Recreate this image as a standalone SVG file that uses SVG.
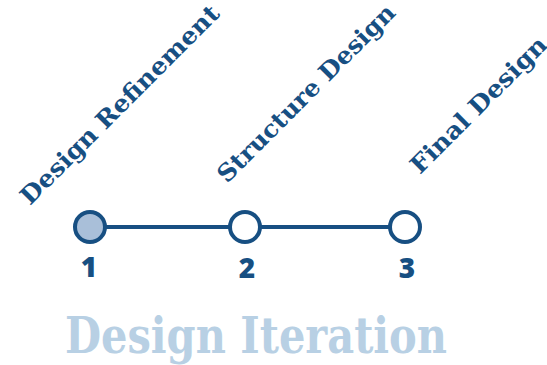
<svg xmlns="http://www.w3.org/2000/svg" width="547" height="365" viewBox="0 0 547 365">
  <style>
    .label { font-family: "DejaVu Serif", "Liberation Serif", serif; font-weight: bold; font-size: 24px; fill: #174f82; }
    .num { font-family: "Open Sans", "Noto Sans", sans-serif; font-weight: 800; font-size: 28px; fill: #174f82; text-anchor: middle; }
    .title { font-family: "DejaVu Serif", "Liberation Serif", serif; font-weight: bold; font-size: 50px; fill: #b8d0e4; }
    .node { stroke: #174f82; stroke-width: 4; }
  </style>
  <rect width="547" height="365" fill="#ffffff"/>
  <g id="connectors">
    <line x1="90" y1="227" x2="405" y2="227" stroke="#174f82" stroke-width="4"/>
  </g>
  <g id="step1">
    <circle class="node" cx="90" cy="227" r="15" fill="#a9bfd9"/>
    <text class="num" x="89" y="277">1</text>
    <text class="label" transform="translate(30,206) rotate(-45)" textLength="270" lengthAdjust="spacingAndGlyphs">Design Refinement</text>
  </g>
  <g id="step2">
    <circle class="node" cx="245" cy="227" r="15" fill="#ffffff"/>
    <text class="num" x="247" y="278">2</text>
    <text class="label" transform="translate(227,184) rotate(-45)" textLength="240" lengthAdjust="spacingAndGlyphs">Structure Design</text>
  </g>
  <g id="step3">
    <circle class="node" cx="405" cy="227" r="15" fill="#ffffff"/>
    <text class="num" x="407" y="278">3</text>
    <text class="label" transform="translate(420,175) rotate(-45)" textLength="182" lengthAdjust="spacingAndGlyphs">Final Design</text>
  </g>
  <g id="title">
    <text class="title" x="65" y="353" textLength="382" lengthAdjust="spacingAndGlyphs">Design Iteration</text>
  </g>
</svg>
